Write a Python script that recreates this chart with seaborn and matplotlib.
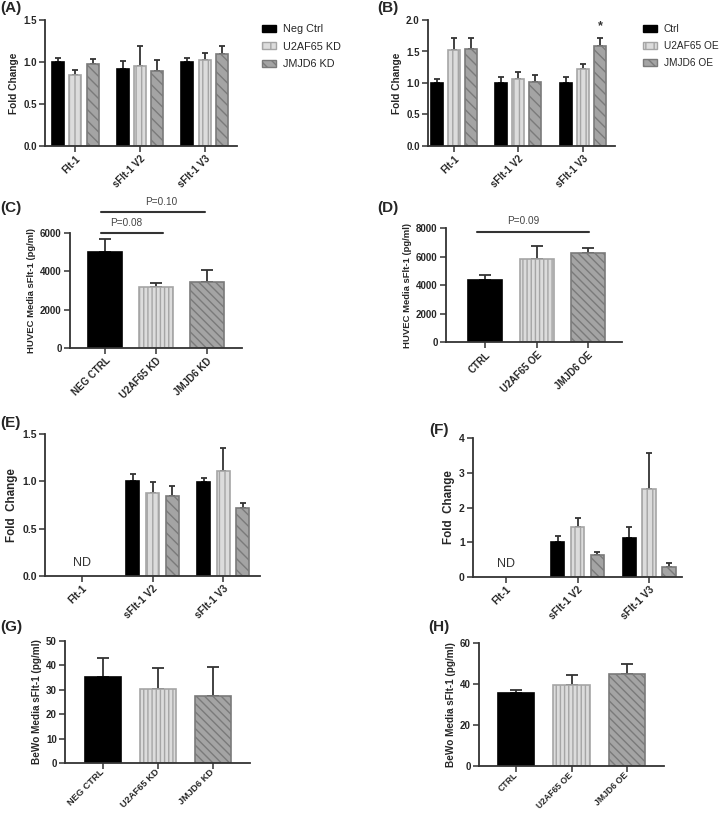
import numpy as np
import pandas as pd
import matplotlib
matplotlib.use("Agg")
import matplotlib.pyplot as plt
import seaborn as sns
from matplotlib.patches import Patch
from matplotlib.container import BarContainer

sns.set_style("ticks")
plt.rcParams["font.family"] = ["Liberation Sans", "DejaVu Sans"]
plt.rcParams["hatch.linewidth"] = 1.0

# ---------------- data ----------------
genes = ["Flt-1", "sFlt-1 V2", "sFlt-1 V3"]

kd_groups = ["Neg Ctrl", "U2AF65 KD", "JMJD6 KD"]
oe_groups = ["Ctrl", "U2AF65 OE", "JMJD6 OE"]
kd_media = ["NEG CTRL", "U2AF65 KD", "JMJD6 KD"]
oe_media = ["CTRL", "U2AF65 OE", "JMJD6 OE"]

# (A) HUVEC knockdown, fold change
a_neg = [1.00, 0.92, 1.00]
a_u2 = [0.84, 0.95, 1.02]
a_jm = [0.98, 0.89, 1.10]
a_neg_err = [0.045, 0.09, 0.045]
a_u2_err = [0.06, 0.24, 0.09]
a_jm_err = [0.06, 0.13, 0.09]

# (B) HUVEC overexpression, fold change
b_ctrl = [1.00, 1.00, 1.00]
b_u2 = [1.52, 1.06, 1.22]
b_jm = [1.54, 1.01, 1.58]
b_ctrl_err = [0.06, 0.09, 0.09]
b_u2_err = [0.20, 0.11, 0.08]
b_jm_err = [0.18, 0.12, 0.14]

# (C) HUVEC media sFlt-1, knockdown (pg/ml)
c_vals = [5030, 3200, 3420]
c_err = [650, 210, 640]

# (D) HUVEC media sFlt-1, overexpression (pg/ml)
d_vals = [4370, 5850, 6250]
d_err = [350, 890, 330]

# (E) BeWo knockdown, fold change (Flt-1 not detected)
e_neg = [np.nan, 1.00, 0.99]
e_u2 = [np.nan, 0.88, 1.11]
e_jm = [np.nan, 0.85, 0.72]
e_neg_err = [np.nan, 0.08, 0.04]
e_u2_err = [np.nan, 0.11, 0.24]
e_jm_err = [np.nan, 0.10, 0.05]

# (F) BeWo overexpression, fold change (Flt-1 not detected)
f_ctrl = [np.nan, 1.02, 1.13]
f_u2 = [np.nan, 1.45, 2.53]
f_jm = [np.nan, 0.62, 0.30]
f_ctrl_err = [np.nan, 0.16, 0.31]
f_u2_err = [np.nan, 0.25, 1.03]
f_jm_err = [np.nan, 0.10, 0.09]

# (G) BeWo media sFlt-1, knockdown (pg/ml)
g_vals = [35.1, 30.5, 27.6]
g_err = [8.1, 8.6, 11.7]

# (H) BeWo media sFlt-1, overexpression (pg/ml)
h_vals = [35.6, 39.5, 44.9]
h_err = [1.7, 4.8, 4.8]

# ---------------- styling ----------------
FACES = ["#000000", "#dcdcdc", "#a4a4a4"]
EDGES = ["#000000", "#a5a5a5", "#7a7a7a"]
DARK = "#333333"

fig = plt.figure(figsize=(7.2, 8.13), dpi=100)


def pos(l, r, t, b):
    return [l / 720, 1 - b / 813, (r - l) / 720, (b - t) / 813]


def style_axes(ax, ylim, yticks, ylabel, ylabel_size, xlim, tsize=7, xsize=7, xva="top"):
    ax.set_ylim(*ylim)
    ax.set_yticks(yticks)
    ax.set_xlim(*xlim)
    for s in ["top", "right"]:
        ax.spines[s].set_visible(False)
    for s in ["left", "bottom"]:
        ax.spines[s].set_linewidth(1.3)
        ax.spines[s].set_color(DARK)
    ax.tick_params(axis="both", direction="out", length=4, width=1.1, color=DARK,
                   labelsize=tsize, pad=2)
    ax.tick_params(axis="x", pad=1.5)
    for t in ax.get_yticklabels():
        t.set_fontweight("bold")
    plt.setp(ax.get_xticklabels(), rotation=45, ha="right", va=xva, rotation_mode="anchor",
             fontweight="bold", fontsize=xsize)
    ax.set_xlabel("")
    ax.set_ylabel(ylabel, fontsize=ylabel_size, fontweight="bold", labelpad=3)


def style_bars_and_errors(ax, errs, hatches, capsize):
    bar_conts = [c for c in ax.containers if isinstance(c, BarContainer)]
    for hi, cont in enumerate(bar_conts):
        for p in cont.patches:
            p.set_facecolor(FACES[hi])
            p.set_edgecolor(EDGES[hi])
            p.set_hatch(hatches[hi])
            p.set_linewidth(1.2)
            h = p.get_height()
            if h is None or np.isnan(h):
                continue
            x = p.get_x() + p.get_width() / 2
            gi = int(round(x))
            e = errs[hi][gi]
            if np.isnan(e):
                continue
            ax.errorbar(x, h, yerr=[[0], [e]], fmt="none", ecolor=DARK,
                        elinewidth=1.3, capsize=capsize, capthick=1.3, zorder=1)


def grouped_panel(rect, means, errs, groups, ylim, yticks, ylabel, ylsize, xlim, width, gap,
                  tsize=7, xsize=7):
    ax = fig.add_axes(rect)
    rows = []
    for g, vals in zip(groups, means):
        for gene, v in zip(genes, vals):
            rows.append({"gene": gene, "group": g, "value": v})
    df = pd.DataFrame(rows)
    sns.barplot(data=df, x="gene", y="value", hue="group", order=genes, hue_order=groups,
                palette=FACES, width=width, gap=gap, errorbar=None, saturation=1,
                legend=False, ax=ax, zorder=2)
    style_bars_and_errors(ax, errs, ["", "|||", "\\\\\\"], 2.3)
    style_axes(ax, ylim, yticks, ylabel, ylsize, xlim, tsize, xsize)
    return ax


def single_panel(rect, cats, vals, errs, ylim, yticks, ylabel, ylsize, xlim, tsize=7, xsize=7,
                 xva="top"):
    ax = fig.add_axes(rect)
    df = pd.DataFrame({"cat": cats, "value": vals})
    sns.barplot(data=df, x="cat", y="value", hue="cat", order=cats, hue_order=cats,
                palette=FACES, width=0.66, errorbar=None, saturation=1, legend=False,
                ax=ax, zorder=2)
    style_bars_and_errors(ax, [[e if i == j else np.nan for j, e in enumerate(errs)]
                               for i in range(len(errs))],
                          ["", "||||", "\\\\\\\\"], 4.5)
    style_axes(ax, ylim, yticks, ylabel, ylsize, xlim, tsize, xsize, xva)
    return ax


def legend(x, y, labels, size):
    handles = [Patch(facecolor=FACES[i], edgecolor=EDGES[i], hatch=["", "||", "\\\\\\"][i],
                     linewidth=1.0, label=labels[i]) for i in range(3)]
    fig.legend(handles=handles, loc="upper left", bbox_to_anchor=(x / 720, 1 - y / 813),
               bbox_transform=fig.transFigure, frameon=False, fontsize=size,
               borderaxespad=0, borderpad=0, handlelength=1.25 * 7.8 / size,
               handleheight=0.65, handletextpad=0.65 * 7.8 / size, labelspacing=0.7)


def panel_label(x, y, s):
    fig.text(x / 720, 1 - y / 813, s, fontsize=11, fontweight="bold", ha="left", va="center")


# (A)
axA = grouped_panel(pos(45, 237, 20, 146), [a_neg, a_u2, a_jm], [a_neg_err, a_u2_err, a_jm_err],
                    kd_groups, (0, 1.5), [0.0, 0.5, 1.0, 1.5], "Fold Change", 7.3,
                    (-0.47, 2.5), 0.8, 0.3)
axA.yaxis.set_major_formatter(matplotlib.ticker.FormatStrFormatter("%.1f"))
legend(262, 24, kd_groups, 7.8)
panel_label(0, 8, "(A)")

# (B)
axB = grouped_panel(pos(428, 615, 20, 146), [b_ctrl, b_u2, b_jm], [b_ctrl_err, b_u2_err, b_jm_err],
                    oe_groups, (0, 2.0), [0.0, 0.5, 1.0, 1.5, 2.0], "Fold Change", 7.3,
                    (-0.4, 2.5), 0.8, 0.3)
axB.yaxis.set_major_formatter(matplotlib.ticker.FormatStrFormatter("%.1f"))
axB.text(2.27, 1.58 + 0.14 + 0.08, "*", ha="center", va="bottom", fontsize=9,
         fontweight="bold", color=DARK)
legend(643, 24, oe_groups, 7.3)
panel_label(377, 8, "(B)")

# (C)
axC = single_panel(pos(70, 242, 233, 348), kd_media, c_vals, c_err, (0, 6000),
                   [0, 2000, 4000, 6000], "HUVEC Media sFlt-1 (pg/ml)", 6.8, (-0.69, 2.69))
axC.plot([-0.08, 1.13], [6000, 6000], color=DARK, lw=1.5, clip_on=False)
axC.plot([-0.08, 1.96], [7100, 7100], color=DARK, lw=1.5, clip_on=False)
axC.text(0.41, 6520, "P=0.08", ha="center", va="center", fontsize=7.2, color="#444444")
axC.text(1.10, 7620, "P=0.10", ha="center", va="center", fontsize=7.2, color="#444444")
panel_label(0, 208, "(C)")

# (D)
axD = single_panel(pos(446, 622, 228, 342), oe_media, d_vals, d_err, (0, 8000),
                   [0, 2000, 4000, 6000, 8000], "HUVEC Media sFlt-1 (pg/ml)", 6.8, (-0.76, 2.66))
axD.plot([-0.16, 2.02], [7720, 7720], color=DARK, lw=1.5, clip_on=False)
axD.text(0.74, 8490, "P=0.09", ha="center", va="center", fontsize=7.2, color="#444444")
panel_label(377, 208, "(D)")

# (E)
axE = grouped_panel(pos(45, 260, 434, 576), [e_neg, e_u2, e_jm], [e_neg_err, e_u2_err, e_jm_err],
                    kd_groups, (0, 1.5), [0.0, 0.5, 1.0, 1.5], "Fold  Change", 8.4,
                    (-0.52, 2.52), 0.83, 0.33, tsize=7.5, xsize=7.3)
axE.yaxis.set_major_formatter(matplotlib.ticker.FormatStrFormatter("%.1f"))
axE.text(0, 0.14, "ND", ha="center", va="center", fontsize=9, color=DARK)
panel_label(0, 423, "(E)")

# (F)
axF = grouped_panel(pos(473, 682, 438, 577), [f_ctrl, f_u2, f_jm], [f_ctrl_err, f_u2_err, f_jm_err],
                    oe_groups, (0, 4), [0, 1, 2, 3, 4], "Fold  Change", 8.4,
                    (-0.46, 2.46), 0.83, 0.33, tsize=7.5, xsize=7.3)
axF.text(0, 0.37, "ND", ha="center", va="center", fontsize=9, color=DARK)
panel_label(429, 430, "(F)")

# (G)
axG = single_panel(pos(65, 250, 641, 763), kd_media, g_vals, g_err, (0, 50),
                   [0, 10, 20, 30, 40, 50], "BeWo Media sFlt-1 (pg/ml)", 7.2, (-0.69, 2.67),
                   tsize=7, xsize=6.7, xva="center")
panel_label(0, 627, "(G)")

# (H)
axH = single_panel(pos(479, 664, 643, 766), oe_media, h_vals, h_err, (0, 60),
                   [0, 20, 40, 60], "BeWo Media sFlt-1 (pg/ml)", 7.2, (-0.67, 2.67),
                   tsize=7, xsize=6.2, xva="center")
panel_label(428, 627, "(H)")

fig.savefig("out.png", dpi=100)
